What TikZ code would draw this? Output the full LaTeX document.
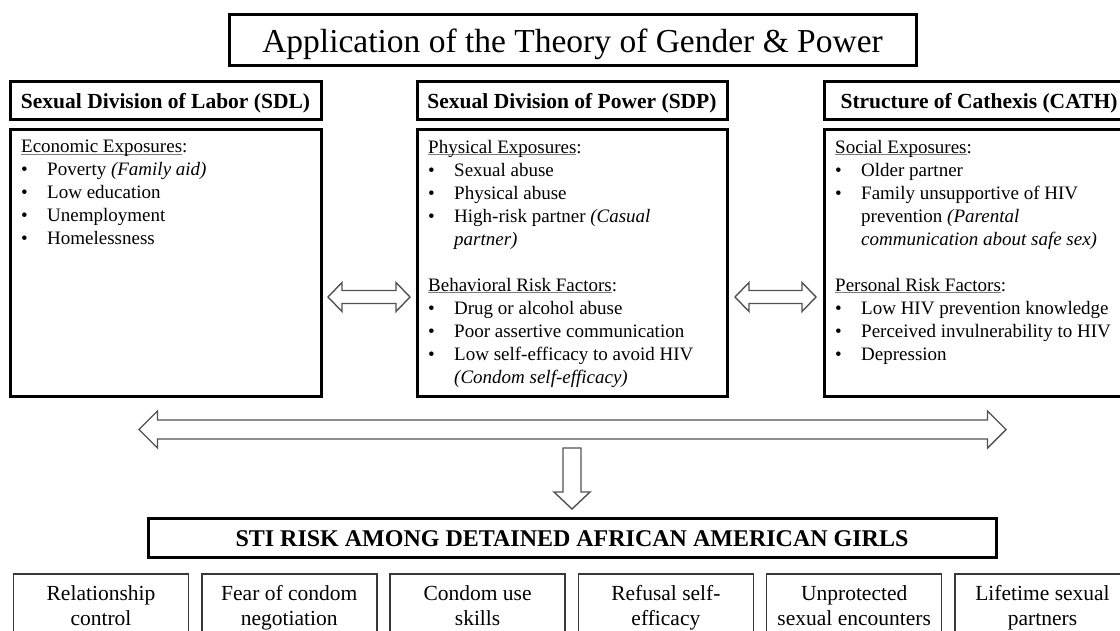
\documentclass[tikz,border=0pt]{standalone}
\usepackage{fontspec}
\setmainfont{Liberation Serif}
\usetikzlibrary{calc}
\definecolor{ulgray}{RGB}{125,125,125}
\newcommand\myul[1]{\setbox0\hbox{#1}\rlap{\textcolor{ulgray}{\rule[-2pt]{\wd0}{0.9pt}}}\box0}
\newcommand\bul{\makebox[26pt][l]{\textbullet}}
\newcommand\ind{\hspace*{26pt}}
\newcommand\dblarrow[5]{%
  \draw[blockarrow] (#1) -- ($(#1)+(#3,-#4)$) -- ($(#1)+(#3,-#5)$) -- ($(#2)+(-#3,-#5)$) -- ($(#2)+(-#3,-#4)$) -- (#2) -- ($(#2)+(-#3,#4)$) -- ($(#2)+(-#3,#5)$) -- ($(#1)+(#3,#5)$) -- ($(#1)+(#3,#4)$) -- cycle;}
\begin{document}
\begin{tikzpicture}[x=1pt,y=-1pt,
  thickbox/.style={draw, line width=3pt, inner sep=0pt, outer sep=0pt},
  thinbox/.style={draw=black!78, line width=1.4pt, inner sep=0pt, outer sep=0pt, minimum width=175pt, minimum height=80pt},
  hdrbox/.style={thickbox, minimum height=38pt, font=\fontsize{21.5}{25}\selectfont\bfseries, text height=20pt, text depth=4pt},
  bodybox/.style={thickbox, minimum height=267pt},
  bodytext/.style={anchor=north west, align=left, inner sep=0pt, font=\fontsize{19}{23}\selectfont},
  btext/.style={anchor=north, align=center, inner sep=0pt, font=\fontsize{21.5}{25}\selectfont},
  blockarrow/.style={draw=black!68, line width=1.4pt, fill=white, line join=miter}]
\useasboundingbox (0,0) rectangle (1120,630);
\fill[white] (0,0) rectangle (1120,630);
\begin{scope}
\clip (0,0) rectangle (1120,630);
% title
\node[thickbox, minimum width=687pt, minimum height=51pt, font=\fontsize{33.5}{40}\selectfont, text height=28pt, text depth=3pt] (title) at (572.5,39.5) {Application of the Theory of Gender \& Power};
% headers
\node[hdrbox, minimum width=311pt] (sdlh) at (165.5,100) {Sexual Division of Labor (SDL)};
\node[hdrbox, minimum width=310pt] (sdph) at (572,100) {Sexual Division of Power (SDP)};
\node[hdrbox, minimum width=310pt] (cathh) at (979,100) {Structure of Cathexis (CATH)};
% bodies
\node[bodybox, minimum width=311pt] (sdlb) at (165.5,262.5) {};
\node[bodybox, minimum width=310pt] (sdpb) at (572,262.5) {};
\node[bodybox, minimum width=310pt] (cathb) at (979,262.5) {};
\node[bodytext] (sdlt) at ($(sdlb.north west)+(11,11)$) {\myul{Economic Exposures}:\\
\bul Poverty \textit{(Family aid)}\\
\bul Low education\\
\bul Unemployment\\
\bul Homelessness};
\node[bodytext] (sdpt) at ($(sdpb.north west)+(11,11)$) {\myul{Physical Exposures}:\\
\bul Sexual abuse\\
\bul Physical abuse\\
\bul High-risk partner \textit{(Casual}\\
\ind\textit{partner)}\\[23pt]
\myul{Behavioral Risk Factors}:\\
\bul Drug or alcohol abuse\\
\bul Poor assertive communication\\
\bul Low self-efficacy to avoid HIV\\
\ind\textit{(Condom self-efficacy)}};
\node[bodytext] (catht) at ($(cathb.north west)+(11,11)$) {\myul{Social Exposures}:\\
\bul Older partner\\
\bul Family unsupportive of HIV\\
\ind prevention \textit{(Parental}\\
\ind\textit{communication about safe sex)}\\[23pt]
\myul{Personal Risk Factors}:\\
\bul Low HIV prevention knowledge\\
\bul Perceived invulnerability to HIV\\
\bul Depression};
% outcome
\node[thickbox, minimum width=848pt, minimum height=39pt, font=\fontsize{24}{28}\selectfont\bfseries, text height=20pt, text depth=2pt] (sti) at (572,537.5) {STI RISK AMONG DETAINED AFRICAN AMERICAN GIRLS};
% bottom boxes
\node[thinbox] (b1) at (101,614) {};
\node[thinbox] (b2) at (289.3,614) {};
\node[thinbox] (b3) at (477.6,614) {};
\node[thinbox] (b4) at (665.9,614) {};
\node[thinbox] (b5) at (854.2,614) {};
\node[thinbox] (b6) at (1042.5,614) {};
\node[btext] (t1) at ($(b1.north)+(0,11.3)$) {Relationship\\control};
\node[btext] (t2) at ($(b2.north)+(0,11.3)$) {Fear of condom\\negotiation};
\node[btext] (t3) at ($(b3.north)+(0,11.3)$) {Condom use\\skills};
\node[btext] (t4) at ($(b4.north)+(0,11.3)$) {Refusal self-\\efficacy};
\node[btext] (t5) at ($(b5.north)+(0,11.3)$) {Unprotected\\sexual encounters};
\node[btext] (t6) at ($(b6.north)+(0,11.3)$) {Lifetime sexual\\partners};
% arrows
\coordinate (a1L) at ($(sdlb.east)+(7,34.5)$);
\coordinate (a1R) at ($(sdpb.west)+(-7,34.5)$);
\coordinate (a2L) at ($(sdpb.east)+(8,34.5)$);
\coordinate (a2R) at ($(cathb.west)+(-8,34.5)$);
\coordinate (bigL) at ($(sdlb.south west)+(129,33.5)$);
\coordinate (bigR) at ($(cathb.south west)+(182,33.5)$);
\coordinate (dT) at ($(sti.north)+(0,-70)$);
\coordinate (dB) at ($(sti.north)+(0,-9)$);
\dblarrow{a1L}{a1R}{14}{14.5}{6.5}
\dblarrow{a2L}{a2R}{14}{14.5}{6.5}
\dblarrow{bigL}{bigR}{18.5}{18.5}{9.5}
\draw[blockarrow] ($(dT)+(-9,0)$) -- ($(dB)+(-9,-17)$) -- ($(dB)+(-18,-17)$) -- (dB) -- ($(dB)+(18,-17)$) -- ($(dB)+(9,-17)$) -- ($(dT)+(9,0)$) -- cycle;
\end{scope}
\end{tikzpicture}
\end{document}
